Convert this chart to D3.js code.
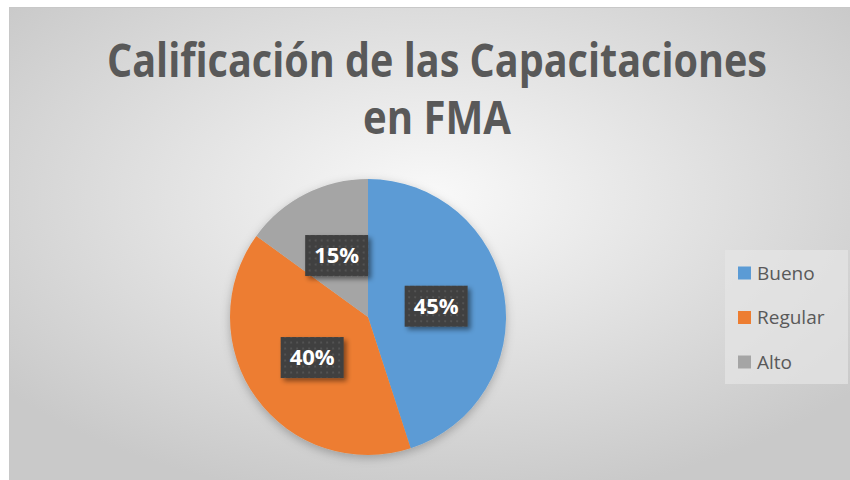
<!DOCTYPE html>
<html>
<head>
<meta charset="utf-8">
<script src="https://cdn.jsdelivr.net/npm/d3@7"></script>
<style>
  body { margin: 0; background: #fff; }
  svg { display: block; }
</style>
</head>
<body>
<div id="chart"></div>
<script>
// data
var categories = ["Bueno", "Regular", "Alto"];
var values = [45, 40, 15];
var colors = ["#5B9BD5", "#ED7D31", "#A5A5A5"];
var titleLines = ["Calificación de las Capacitaciones", "en FMA"];

var w = 850, h = 480;
var svg = d3.select("#chart").append("svg")
  .attr("width", w)
  .attr("height", h);

var defs = svg.append("defs");

// radial background like the Excel chart style
var bg = defs.append("radialGradient")
  .attr("id", "bg")
  .attr("cx", "50%").attr("cy", "40%").attr("r", "65%");
bg.append("stop").attr("offset", "0%").attr("stop-color", "#f9f9f9");
bg.append("stop").attr("offset", "100%").attr("stop-color", "#c9c9c9");

// dotted fill for the labels
var pat = defs.append("pattern")
  .attr("id", "dots")
  .attr("width", 6).attr("height", 6)
  .attr("patternUnits", "userSpaceOnUse");
pat.append("rect").attr("width", 6).attr("height", 6).attr("fill", "#404040");
pat.append("circle").attr("cx", 3).attr("cy", 3).attr("r", 0.9).attr("fill", "#5a5a5a");

var shadow = defs.append("filter").attr("id", "shadow")
  .attr("x", "-30%").attr("y", "-30%").attr("width", "160%").attr("height", "160%");
shadow.append("feDropShadow")
  .attr("dx", 3).attr("dy", 3).attr("stdDeviation", 2.5)
  .attr("flood-color", "#000").attr("flood-opacity", 0.45);

var pieShadow = defs.append("filter").attr("id", "pieShadow")
  .attr("x", "-20%").attr("y", "-20%").attr("width", "140%").attr("height", "140%");
pieShadow.append("feDropShadow")
  .attr("dx", 0).attr("dy", 3).attr("stdDeviation", 5)
  .attr("flood-color", "#000").attr("flood-opacity", 0.25);

// chart area
svg.append("rect")
  .attr("x", 9.5).attr("y", 7.5)
  .attr("width", w - 9).attr("height", h - 7)
  .attr("fill", "url(#bg)")
  .attr("stroke", "#c8c8c8")
  .attr("stroke-width", 1);

// title: Calibri is narrow and tall, so stretch a narrower size upward
var titleWidths = [660, 148];
svg.selectAll(".title")
  .data(titleLines)
  .enter()
  .append("text")
  .attr("class", "title")
  .attr("transform", function(d, i) {
    return "translate(437," + (77 + i * 57) + ") scale(1,1.32)";
  })
  .attr("text-anchor", "middle")
  .attr("font-family", "Open Sans, sans-serif")
  .attr("font-weight", "bold")
  .attr("font-size", 35)
  .attr("fill", "#595959")
  .attr("textLength", function(d, i) { return titleWidths[i]; })
  .attr("lengthAdjust", "spacingAndGlyphs")
  .text(function(d) { return d; });

// pie
var cx = 368, cy = 317, r = 138;
var pie = d3.pie().sort(null).value(function(d) { return d; });
var arcs = pie(values);
var arc = d3.arc().innerRadius(0).outerRadius(r);

var g = svg.append("g").attr("transform", "translate(" + cx + "," + cy + ")");

g.append("g").attr("filter", "url(#pieShadow)")
  .selectAll("path")
  .data(arcs)
  .enter()
  .append("path")
  .attr("d", arc)
  .attr("fill", function(d, i) { return colors[i]; });

// data labels
var lw = 63, lh = 41;
var labels = g.selectAll(".lbl")
  .data(arcs)
  .enter()
  .append("g")
  .attr("class", "lbl")
  .attr("transform", function(d) {
    var c = arc.centroid(d);
    return "translate(" + c[0] + "," + c[1] + ")";
  });
labels.append("rect")
  .attr("x", -lw / 2).attr("y", -lh / 2)
  .attr("width", lw).attr("height", lh)
  .attr("fill", "url(#dots)")
  .attr("filter", "url(#shadow)");
labels.append("text")
  .attr("text-anchor", "middle")
  .attr("dy", "0.36em")
  .attr("font-family", "Open Sans, sans-serif")
  .attr("font-weight", "bold")
  .attr("font-size", 22)
  .attr("fill", "#fff")
  .text(function(d, i) { return values[i] + "%"; });

// legend
var legend = svg.append("g");
legend.append("rect")
  .attr("x", 725).attr("y", 250)
  .attr("width", 123).attr("height", 134)
  .attr("fill", "#e6e6e6")
  .attr("opacity", 0.7);

var ly = d3.scalePoint().domain(categories).range([273, 362]);
var items = legend.selectAll(".item")
  .data(categories)
  .enter()
  .append("g")
  .attr("class", "item")
  .attr("transform", function(d) { return "translate(738," + ly(d) + ")"; });
items.append("rect")
  .attr("x", 0).attr("y", -6.5)
  .attr("width", 13).attr("height", 13)
  .attr("fill", function(d, i) { return colors[i]; });
items.append("text")
  .attr("x", 19)
  .attr("dy", "0.36em")
  .attr("font-family", "Open Sans, sans-serif")
  .attr("font-size", 19)
  .attr("fill", "#595959")
  .text(function(d) { return d; });
</script>
</body>
</html>
